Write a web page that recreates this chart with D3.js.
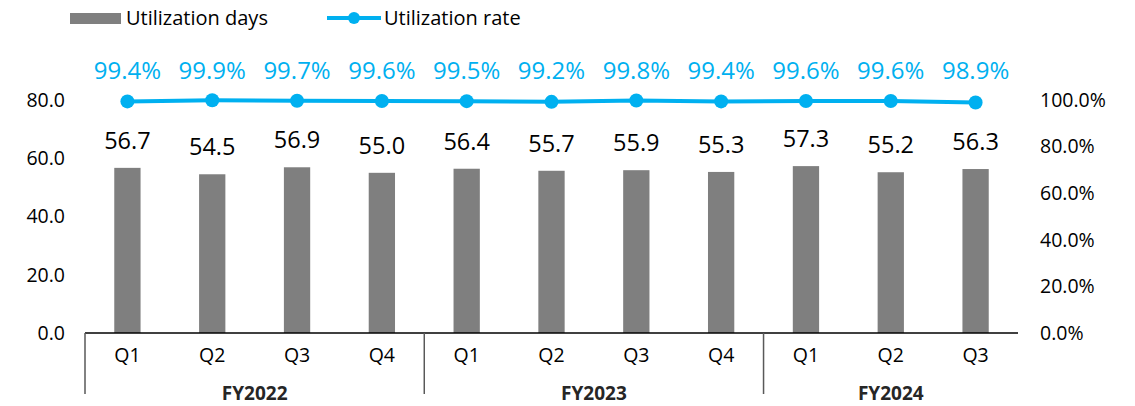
<!DOCTYPE html>
<html>
<head>
<meta charset="utf-8">
<script src="https://cdn.jsdelivr.net/npm/d3@7"></script>
<style>
  body { margin: 0; background: #fff; }
  svg text { font-family: "Open Sans", "Noto Sans", sans-serif; }
</style>
</head>
<body>
<svg id="chart"></svg>
<script>
var quarters = ['Q1', 'Q2', 'Q3', 'Q4', 'Q1', 'Q2', 'Q3', 'Q4', 'Q1', 'Q2', 'Q3'];
var years = ['FY2022', 'FY2023', 'FY2024'];
var yearOf = [0, 0, 0, 0, 1, 1, 1, 1, 2, 2, 2];
var days = [56.7, 54.5, 56.9, 55.0, 56.4, 55.7, 55.9, 55.3, 57.3, 55.2, 56.3];
var rate = [99.4, 99.9, 99.7, 99.6, 99.5, 99.2, 99.8, 99.4, 99.6, 99.6, 98.9];
var leftTicks = [0, 20, 40, 60, 80];
var rightTicks = [0, 20, 40, 60, 80, 100];

var W = 1135, H = 406;
var margin = {top: 100, right: 117, bottom: 73, left: 85};
var width = W - margin.left - margin.right,
    height = H - margin.top - margin.bottom;

var barColor = '#7f7f7f', lineColor = '#00b0f0';
var axisFont = 19.5;

var svg = d3.select('#chart').attr('width', W).attr('height', H);
var g = svg.append('g').attr('transform', 'translate(' + margin.left + ',' + margin.top + ')');

var idx = d3.range(days.length);
var x = d3.scaleBand().domain(idx).range([0, width]).padding(0);
var yL = d3.scaleLinear().domain([0, 80]).range([height, 0]);
var yR = d3.scaleLinear().domain([0, 100]).range([height, 0]);
var barW = x.bandwidth() * 0.31;

// left axis labels
var axL = d3.axisLeft(yL).tickValues(leftTicks).tickSize(0).tickPadding(20)
  .tickFormat(d3.format('.1f'));
g.append('g').call(axL).call(function(s) {
  s.select('.domain').remove();
  s.selectAll('text').attr('font-size', axisFont).attr('fill', '#000');
});

// right axis labels
var axR = d3.axisRight(yR).tickValues(rightTicks).tickSize(0).tickPadding(22)
  .tickFormat(function(d) { return d.toFixed(1) + '%'; });
g.append('g').attr('transform', 'translate(' + width + ',0)').call(axR).call(function(s) {
  s.select('.domain').remove();
  s.selectAll('text').attr('font-size', axisFont).attr('fill', '#000');
});

// bars
g.selectAll('.bar').data(idx).enter().append('rect')
  .attr('class', 'bar')
  .attr('x', function(i) { return x(i) + (x.bandwidth() - barW) / 2; })
  .attr('y', function(i) { return yL(days[i]); })
  .attr('width', barW)
  .attr('height', function(i) { return height - yL(days[i]); })
  .attr('fill', barColor);

g.selectAll('.blabel').data(idx).enter().append('text')
  .attr('x', function(i) { return x(i) + x.bandwidth() / 2; })
  .attr('y', function(i) { return yL(days[i]) - 19; })
  .attr('text-anchor', 'middle')
  .attr('font-size', 23.5)
  .attr('fill', '#000')
  .text(function(i) { return days[i].toFixed(1); });

// baseline
g.append('line').attr('x1', 0).attr('x2', width).attr('y1', height).attr('y2', height)
  .attr('stroke', '#000').attr('stroke-width', 1.5);

// category axis
g.selectAll('.qlabel').data(idx).enter().append('text')
  .attr('x', function(i) { return x(i) + x.bandwidth() / 2; })
  .attr('y', height + 29)
  .attr('text-anchor', 'middle')
  .attr('font-size', axisFont)
  .attr('fill', '#000')
  .text(function(i) { return quarters[i]; });

var groups = years.map(function(y, k) {
  var members = idx.filter(function(i) { return yearOf[i] === k; });
  return {name: y, start: x(members[0]), end: x(members[members.length - 1]) + x.bandwidth()};
});

g.selectAll('.sep').data(groups).enter().append('line')
  .attr('x1', function(d) { return d.start; })
  .attr('x2', function(d) { return d.start; })
  .attr('y1', height).attr('y2', height + 61)
  .attr('stroke', '#595959').attr('stroke-width', 1.5);

g.selectAll('.ylabel').data(groups).enter().append('text')
  .attr('x', function(d) { return (d.start + d.end) / 2; })
  .attr('y', height + 67)
  .attr('text-anchor', 'middle')
  .attr('font-size', 19)
  .attr('font-weight', 'bold')
  .attr('fill', '#262626')
  .text(function(d) { return d.name; });

// line
var line = d3.line()
  .x(function(i) { return x(i) + x.bandwidth() / 2; })
  .y(function(i) { return yR(rate[i]); });

g.append('path').datum(idx).attr('d', line)
  .attr('fill', 'none').attr('stroke', lineColor).attr('stroke-width', 4);

g.selectAll('.dot').data(idx).enter().append('circle')
  .attr('cx', function(i) { return x(i) + x.bandwidth() / 2; })
  .attr('cy', function(i) { return yR(rate[i]); })
  .attr('r', 7)
  .attr('fill', lineColor);

g.selectAll('.rlabel').data(idx).enter().append('text')
  .attr('x', function(i) { return x(i) + x.bandwidth() / 2; })
  .attr('y', -21)
  .attr('text-anchor', 'middle')
  .attr('font-size', 24)
  .attr('fill', lineColor)
  .text(function(i) { return rate[i].toFixed(1) + '%'; });

// legend
var leg = svg.append('g');
leg.append('rect').attr('x', 70).attr('y', 13).attr('width', 51).attr('height', 11).attr('fill', barColor);
leg.append('text').attr('x', 126).attr('y', 18).attr('dy', '0.35em')
  .attr('font-size', 20).attr('fill', '#000').text('Utilization days');
leg.append('line').attr('x1', 327).attr('x2', 381).attr('y1', 18).attr('y2', 18)
  .attr('stroke', lineColor).attr('stroke-width', 4);
leg.append('circle').attr('cx', 354).attr('cy', 18).attr('r', 6).attr('fill', lineColor);
leg.append('text').attr('x', 384).attr('y', 18).attr('dy', '0.35em')
  .attr('font-size', 20).attr('fill', '#000').text('Utilization rate');
</script>
</body>
</html>
